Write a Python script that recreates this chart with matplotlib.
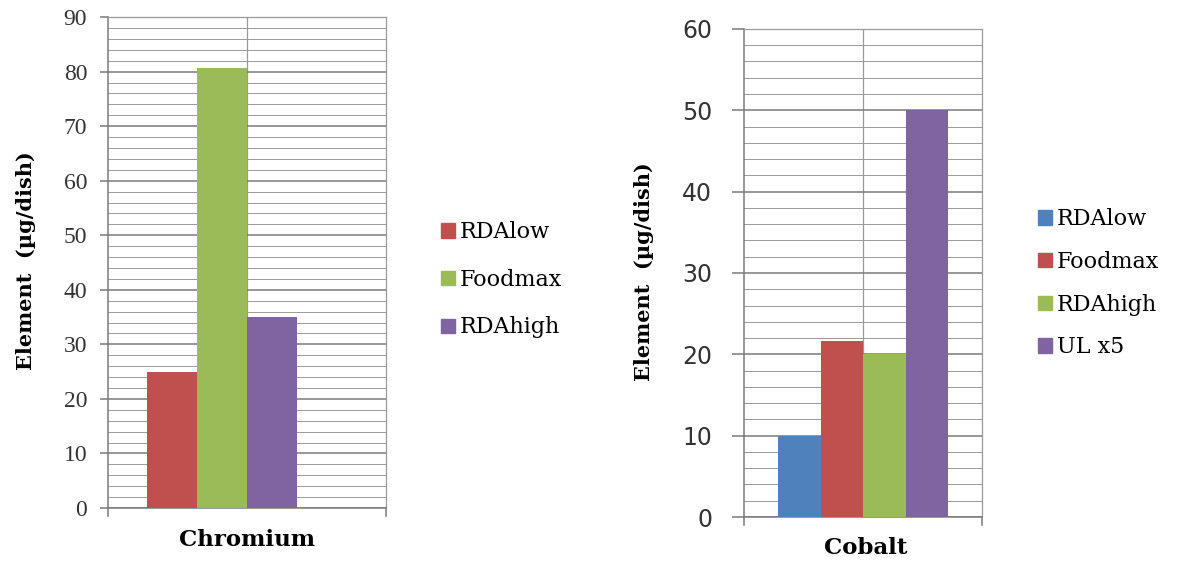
import matplotlib.pyplot as plt
import numpy as np
from matplotlib.patches import Patch

# Chromium panel
cr_series = ['RDAlow', 'Foodmax', 'RDAhigh']
cr_values = [25, 80.7, 35]
cr_colors = ['#C0504D', '#9BBB59', '#8064A2']

# Cobalt panel
co_series = ['RDAlow', 'Foodmax', 'RDAhigh', 'UL x5']
co_values = [10, 21.6, 20, 50]
co_colors = ['#4F81BD', '#C0504D', '#9BBB59', '#8064A2']

SERIF = ['Liberation Serif', 'DejaVu Serif']
WIDE_SERIF = ['DejaVu Serif']


def setup_axes(ax, ymax, tick_family, tick_size, tick_len, tick_pad):
    ax.set_xlim(0, 1)
    ax.set_ylim(0, ymax)
    ax.set_yticks(np.arange(0, ymax + 1, 10))
    ax.set_yticks(np.arange(0, ymax + 1, 2), minor=True)
    ax.set_xticks([])
    ax.grid(axis='y', which='major', color='#7a7a7a', lw=1.1)
    ax.grid(axis='y', which='minor', color='#9a9a9a', lw=0.7)
    ax.axvline(0.5, color='#9a9a9a', lw=0.9, zorder=0)
    ax.set_axisbelow(True)
    for s in ['top', 'right']:
        ax.spines[s].set_color('#9a9a9a')
        ax.spines[s].set_linewidth(0.9)
    for s in ['left', 'bottom']:
        ax.spines[s].set_color('#7a7a7a')
        ax.spines[s].set_linewidth(1.1)
    ax.tick_params(axis='y', which='major', length=tick_len, width=1.1,
                   color='#7a7a7a', pad=tick_pad)
    ax.tick_params(axis='y', which='minor', length=0)
    for lbl in ax.get_yticklabels():
        lbl.set_fontfamily(tick_family)
        lbl.set_fontsize(tick_size)
        lbl.set_color('#333333')
    # small end ticks below the x axis
    for x in (0, 1):
        ax.plot([x, x], [0, -ymax * 0.017], color='#7a7a7a', lw=1.1, clip_on=False)


fig = plt.figure(figsize=(11.8, 5.61), dpi=100)

# left panel
ax1 = fig.add_axes([0.0915, 0.0945, 0.2356, 0.875])
setup_axes(ax1, 90, SERIF, 17, 6, 9)
x1 = 0.14 + 0.18 * np.arange(len(cr_values))
ax1.bar(x1, cr_values, width=0.18, align='edge', color=cr_colors, zorder=3)
fig.text(0.022, 0.535, 'Element  (\u00b5g/dish)', rotation=90, ha='center', va='center',
         family=WIDE_SERIF, fontweight='bold', fontsize=15)
fig.text(0.2093, 0.0374, 'Chromium', ha='center', va='center', family=WIDE_SERIF,
         fontweight='bold', fontsize=16.5)
handles1 = [Patch(color=c, label=n) for c, n in zip(cr_colors, cr_series)]
fig.legend(handles=handles1, loc='center left', bbox_to_anchor=(0.357, 0.501),
           frameon=False, handlelength=0.6, handleheight=0.6, handletextpad=0.25,
           labelspacing=1.15, prop={'family': WIDE_SERIF, 'size': 16})

# right panel
ax2 = fig.add_axes([0.6305, 0.0784, 0.2017, 0.870])
setup_axes(ax2, 60, ['DejaVu Sans'], 17, 9, 14)
x2 = 0.143 + 0.1786 * np.arange(len(co_values))
ax2.bar(x2, co_values, width=0.1786, align='edge', color=co_colors, zorder=3)
fig.text(0.546, 0.515, 'Element  (\u00b5g/dish)', rotation=90, ha='center', va='center',
         family=WIDE_SERIF, fontweight='bold', fontsize=15)
fig.text(0.7339, 0.0232, 'Cobalt', ha='center', va='center', family=WIDE_SERIF,
         fontweight='bold', fontsize=16.5)
handles2 = [Patch(color=c, label=n) for c, n in zip(co_colors, co_series)]
fig.legend(handles=handles2, loc='center left', bbox_to_anchor=(0.863, 0.495),
           frameon=False, handlelength=0.6, handleheight=0.6, handletextpad=0.25,
           labelspacing=0.93, prop={'family': WIDE_SERIF, 'size': 16})

fig.savefig('out.png', dpi=100, facecolor='white')
